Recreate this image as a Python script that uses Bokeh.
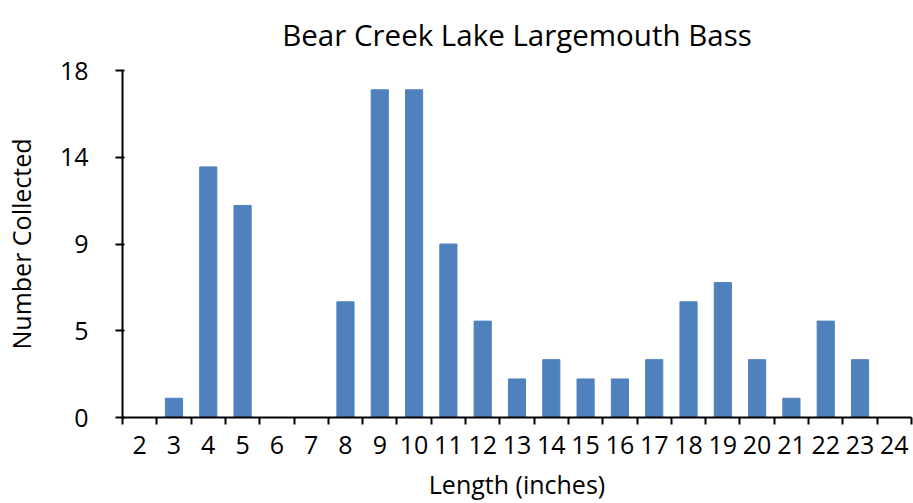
from bokeh.plotting import figure
from bokeh.models import FixedTicker, ColumnDataSource, Range1d
from bokeh.embed import file_html
from bokeh.resources import INLINE

# ---- data ----
lengths = list(range(2, 25))
counts = [0, 1, 13, 11, 0, 0, 6, 17, 17, 9, 5, 2, 3, 2, 2, 3, 6, 7, 3, 1, 5, 3, 0]
y_ticks = [0, 4.5, 9, 13.5, 18]
y_tick_labels = ["0", "5", "9", "14", "18"]
title_text = "Bear Creek Lake Largemouth Bass"
x_label = "Length (inches)"
y_label = "Number Collected"

FONT = "Open Sans"
BAR = "#4F81BD"

src = ColumnDataSource(dict(x=lengths, top=counts))

p = figure(width=913, height=503, output_backend="svg", toolbar_location=None,
           x_range=Range1d(lengths[0] - 0.5, lengths[-1] + 0.5),
           y_range=Range1d(y_ticks[0], y_ticks[-1]),
           min_border_left=122, min_border_right=2, min_border_top=0,
           min_border_bottom=86)

p.vbar(x="x", top="top", width=0.5, source=src, color=BAR)

p.title.text = title_text
p.title.align = "center"
p.title.vertical_align = "top"
p.title.text_font = FONT
p.title.text_font_size = "29.5px"
p.title.text_font_style = "normal"
p.title.text_color = "black"
p.title.standoff = 27

p.grid.visible = False
p.outline_line_color = None
p.background_fill_color = "white"
p.border_fill_color = "white"

xa = p.xaxis[0]
xa.ticker = FixedTicker(ticks=lengths, minor_ticks=[l - 0.5 for l in lengths] + [lengths[-1] + 0.5])
xa.major_tick_line_color = None
xa.minor_tick_line_color = "black"
xa.minor_tick_line_width = 2
xa.minor_tick_out = 7
xa.minor_tick_in = 0
xa.major_label_standoff = 11
xa.major_label_text_font = FONT
xa.major_label_text_font_size = "25px"
xa.major_label_text_color = "black"
xa.axis_line_color = "black"
xa.axis_line_width = 2
xa.axis_label = x_label
xa.axis_label_text_font = FONT
xa.axis_label_text_font_size = "25px"
xa.axis_label_text_font_style = "normal"
xa.axis_label_text_color = "black"
xa.axis_label_standoff = 10

ya = p.yaxis[0]
ya.ticker = FixedTicker(ticks=y_ticks, minor_ticks=[])
ya.major_label_overrides = {t: s for t, s in zip(y_ticks, y_tick_labels)}
ya.major_tick_line_color = "black"
ya.major_tick_line_width = 2
ya.major_tick_out = 7
ya.major_tick_in = 2
ya.minor_tick_line_color = None
ya.major_label_standoff = 27
ya.major_label_text_font = FONT
ya.major_label_text_font_size = "25px"
ya.major_label_text_color = "black"
ya.axis_line_color = "black"
ya.axis_line_width = 2
ya.axis_label = y_label
ya.axis_label_text_font = FONT
ya.axis_label_text_font_size = "25px"
ya.axis_label_text_font_style = "normal"
ya.axis_label_text_color = "black"
ya.axis_label_standoff = 19

open("out.html", "w").write(file_html(p, INLINE))
